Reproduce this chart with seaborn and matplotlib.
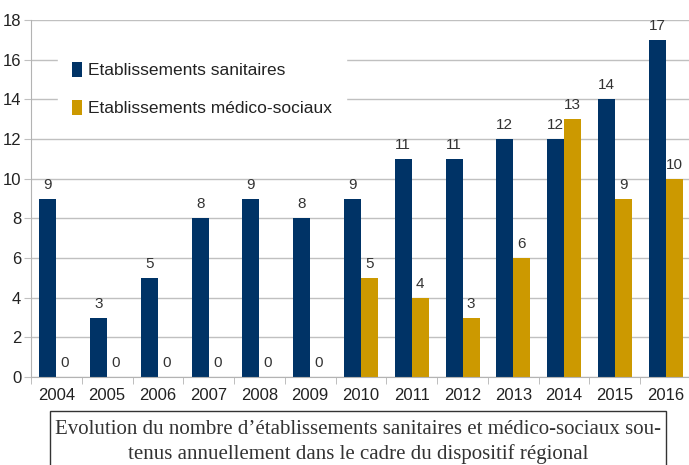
import numpy as np
import pandas as pd
import seaborn as sns
import matplotlib.pyplot as plt
from matplotlib.patches import Rectangle

# données
annees = ['2004', '2005', '2006', '2007', '2008', '2009', '2010',
          '2011', '2012', '2013', '2014', '2015', '2016']
sanitaires = [9, 3, 5, 8, 9, 8, 9, 11, 11, 12, 12, 14, 17]
medico_sociaux = [0, 0, 0, 0, 0, 0, 5, 4, 3, 6, 13, 9, 10]

serie_san = 'Etablissements sanitaires'
serie_med = 'Etablissements médico-sociaux'

df = pd.DataFrame({
    'annee': annees * 2,
    'valeur': sanitaires + medico_sociaux,
    'serie': [serie_san] * len(annees) + [serie_med] * len(annees),
})

sns.set_style('white')
plt.rcParams['font.family'] = ['Liberation Sans', 'DejaVu Sans']

fig = plt.figure(figsize=(6.89, 4.65), dpi=100)
ax = fig.add_axes([31 / 689, 1 - 377 / 465, 660 / 689, 357 / 465])

palette = {serie_san: '#003366', serie_med: '#cc9900'}
sns.barplot(data=df, x='annee', y='valeur', hue='serie', palette=palette,
            width=0.67, saturation=1, ax=ax, order=annees, linewidth=0)

# étiquettes de valeurs
for cont in ax.containers:
    ax.bar_label(cont, fmt='%d', padding=5, fontsize=11, color='#333333')

ax.set_ylim(0, 18)
ax.set_yticks(range(0, 19, 2))
ax.set_xlim(-0.5, len(annees) - 0.5)
ax.yaxis.grid(True, color='#c0c0c0', linewidth=1)
ax.set_axisbelow(True)
ax.set_xlabel('')
ax.set_ylabel('')

for s in ['top', 'right']:
    ax.spines[s].set_visible(False)
ax.spines['left'].set_color('#b3b3b3')
ax.spines['bottom'].set_color('#b3b3b3')

ax.tick_params(axis='y', length=5, color='#c0c0c0', labelsize=12,
               labelcolor='#222222', pad=2, left=True)
ax.tick_params(axis='x', which='major', length=0, labelsize=12,
               labelcolor='#222222', pad=8)
ax.set_xticks(np.arange(-0.5, len(annees), 1.0), minor=True)
ax.tick_params(axis='x', which='minor', length=5, color='#b3b3b3',
               bottom=True)

leg = ax.legend(loc='upper left', bbox_to_anchor=(0.028, 0.945),
                frameon=True, fontsize=12.5, handlelength=0.6,
                handleheight=0.9, handletextpad=0.3, labelspacing=1.25,
                borderpad=0.8, edgecolor='white', facecolor='white',
                framealpha=1, fancybox=False)
for t in leg.get_texts():
    t.set_color('#222222')

# légende sous le graphique
fig.patches.append(Rectangle((50 / 689, -0.05), 616 / 689, 1 - 411 / 465 + 0.05,
                             transform=fig.transFigure, fill=False,
                             edgecolor='#333333', linewidth=1))
fig.text(358 / 689, 1 - 429 / 465,
         "Evolution du nombre d\u2019établissements sanitaires et médico-sociaux sou-",
         ha='center', va='center', fontsize=15, family='Liberation Serif',
         color='#333333')
fig.text(358 / 689, 1 - 454 / 465,
         "tenus annuellement dans le cadre du dispositif régional",
         ha='center', va='center', fontsize=15, family='Liberation Serif',
         color='#333333')

fig.savefig('out.png', dpi=100)
